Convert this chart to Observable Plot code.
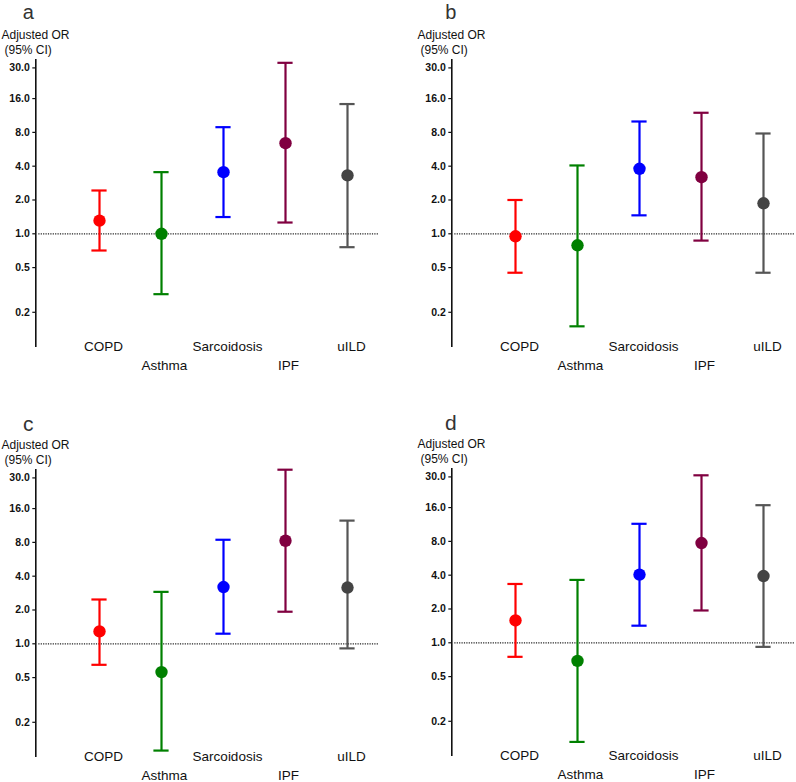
<!DOCTYPE html>
<html>
<head>
<meta charset="utf-8">
<script src="https://cdn.jsdelivr.net/npm/d3@7"></script>
<script src="https://cdn.jsdelivr.net/npm/@observablehq/plot@0.6"></script>
<style>
  html, body { margin: 0; padding: 0; background: #fff; overflow: hidden; }
  #chart { position: relative; width: 796px; height: 782px; overflow: hidden; }
  #chart > svg { position: absolute; overflow: visible; }
</style>
</head>
<body>
<div id="chart"></div>
<script>
// Diagnoses on the x axis and their colours
const categories = ["COPD", "Asthma", "Sarcoidosis", "IPF", "uILD"];
const colors = ["#ff0000", "#008000", "#0000ff", "#800040", "#555555"];
const dotColors = ["#ff0000", "#008000", "#0000ff", "#800040", "#444444"];

// Log-scale tick values on the odds-ratio axis
const yTicks = [0.2, 0.5, 1, 2, 4, 8, 16, 30];

// Panel letters
const panelLetters = ["a", "b", "c", "d"];

// Adjusted odds ratios with 95% confidence limits, one set per panel
const orA = [1.31, 1.00, 3.54, 6.41, 3.31];
const loA = [0.71, 0.29, 1.41, 1.26, 0.76];
const hiA = [2.43, 3.54, 8.90, 33.3, 14.3];

const orB = [0.95, 0.79, 3.79, 3.19, 1.87];
const loB = [0.45, 0.15, 1.46, 0.87, 0.45];
const hiB = [2.00, 4.06, 10.0, 11.96, 7.82];

const orC = [1.29, 0.56, 3.20, 8.27, 3.17];
const loC = [0.65, 0.112, 1.23, 1.93, 0.91];
const hiC = [2.48, 2.90, 8.44, 35.5, 12.5];

const orD = [1.58, 0.69, 4.05, 7.73, 3.93];
const loD = [0.75, 0.131, 1.42, 1.94, 0.92];
const hiD = [3.34, 3.63, 11.47, 31.0, 16.8];

const series = [
  [orA, loA, hiA],
  [orB, loB, hiB],
  [orC, loC, hiC],
  [orD, loD, hiD]
];

// Placement of each panel on the page
const layout = [
  {left: 0,     top: 0,   letterDx: -7.6, letterDy: -47.6, letterSize: 20},
  {left: 416.4, top: 0,   letterDx: -1,   letterDy: -47.6, letterSize: 20},
  {left: 0,     top: 410, letterDx: -7.6, letterDy: -45.5, letterSize: 21},
  {left: 416.4, top: 409, letterDx: -1,   letterDy: -45.2, letterSize: 21}
];

const W = 380, H = 380;
const ML = 35.3, MR = 2;
const FONT = "'Liberation Sans', Arial, Helvetica, sans-serif";
const chart = document.getElementById("chart");

function panel(k) {
  const [or, lo, hi] = series[k];
  const rows = categories.map((c, i) => ({
    cat: c, or: or[i], lo: lo[i], hi: hi[i], color: colors[i], dot: dotColors[i], row: i % 2
  }));
  const svg = Plot.plot({
    width: W,
    height: H,
    marginLeft: ML,
    marginRight: MR,
    marginTop: 59.2,
    marginBottom: H - 345.6,
    style: {fontFamily: FONT, color: "#111", background: "transparent", overflow: "visible"},
    x: {type: "point", domain: categories, range: [97.7, 347.7], padding: 0, axis: null},
    y: {type: "log", domain: [0.1, 35.5], axis: null},
    color: {type: "identity"},
    marks: [
      // reference line at OR = 1
      Plot.ruleY([1], {stroke: "#222", strokeWidth: 1.3, strokeDasharray: "1.2,1.2", insetLeft: 3}),
      // y axis: spine, outward ticks and bold labels
      Plot.frame({anchor: "left", stroke: "#111", strokeWidth: 1.6}),
      Plot.ruleY(yTicks, {y: d => d, stroke: "#111", strokeWidth: 1.2, insetLeft: -3, insetRight: W - MR - ML}),
      Plot.text(yTicks, {
        y: d => d, text: d => d.toFixed(1), frameAnchor: "left", textAnchor: "end", lineAnchor: "middle",
        dx: -6, fontWeight: "bold", fontSize: 10.5, fill: "#111"
      }),
      // confidence intervals
      Plot.ruleX(rows, {x: "cat", y1: "lo", y2: "hi", stroke: "color", strokeWidth: 2.2}),
      Plot.ruleY(rows, {x1: "cat", x2: "cat", y: "lo", stroke: "color", strokeWidth: 2.2, insetLeft: -7.6, insetRight: -7.6}),
      Plot.ruleY(rows, {x1: "cat", x2: "cat", y: "hi", stroke: "color", strokeWidth: 2.2, insetLeft: -7.6, insetRight: -7.6}),
      // point estimates
      Plot.dot(rows, {x: "cat", y: "or", r: 6.2, fill: "dot", stroke: null}),
      // staggered diagnosis labels under the plot
      Plot.text(rows.filter(d => d.row === 0), {x: "cat", frameAnchor: "bottom", text: "cat", dx: 4, dy: 1, lineAnchor: "middle", fontSize: 13.5, fill: "#111"}),
      Plot.text(rows.filter(d => d.row === 1), {x: "cat", frameAnchor: "bottom", text: "cat", dx: 3, dy: 19.5, lineAnchor: "middle", fontSize: 13.5, fill: "#111"}),
      // axis title and panel letter
      Plot.text(["Adjusted OR"], {frameAnchor: "top-left", textAnchor: "start", lineAnchor: "middle", dx: -34.3, dy: -24.6, fontSize: 12, fill: "#111"}),
      Plot.text(["(95% CI)"], {frameAnchor: "top-left", textAnchor: "start", lineAnchor: "middle", dx: -31.3, dy: -9.6, fontSize: 12, fill: "#111"}),
      Plot.text([panelLetters[k]], {frameAnchor: "top-left", textAnchor: "middle", lineAnchor: "middle", dx: layout[k].letterDx, dy: layout[k].letterDy, fontSize: layout[k].letterSize, fill: "#333"})
    ]
  });
  svg.style.left = layout[k].left + "px";
  svg.style.top = layout[k].top + "px";
  chart.appendChild(svg);
}

for (let k = 0; k < 4; k++) panel(k);
</script>
</body>
</html>
